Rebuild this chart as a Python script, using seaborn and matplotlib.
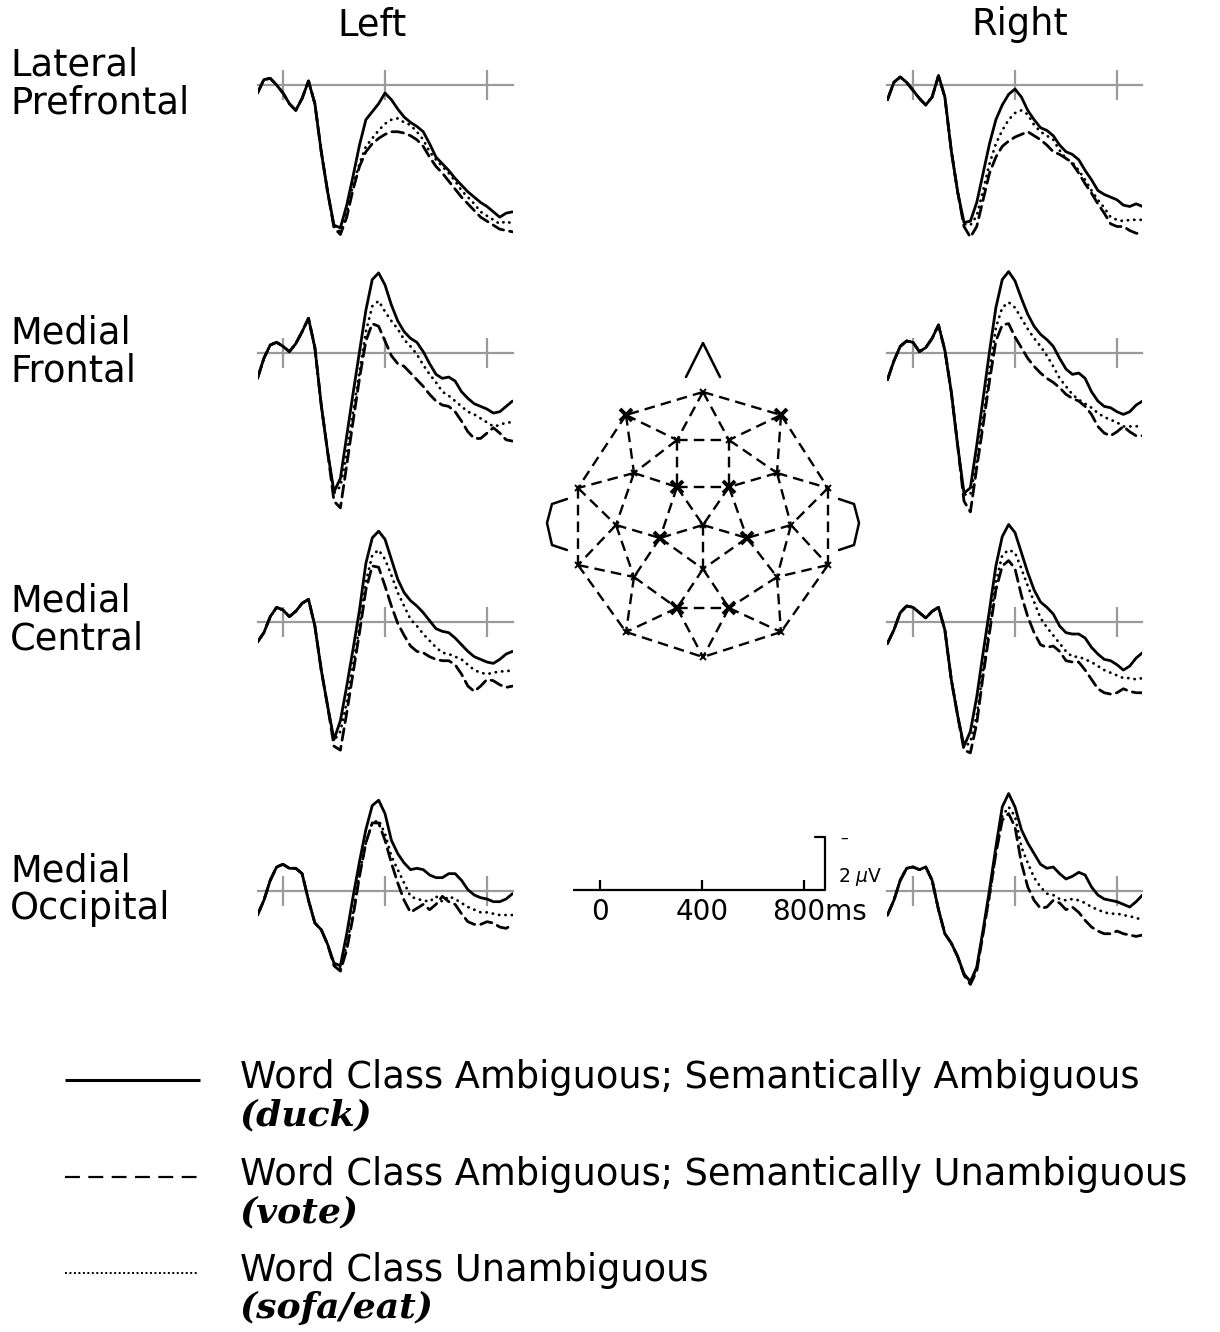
import matplotlib
matplotlib.use("Agg")
import matplotlib.pyplot as plt
import seaborn as sns
import pandas as pd

# ---- data, microvolts, negative plotted up ----
times = [-100, -75, -50, -25, 0, 25, 50, 75, 100, 125, 150, 175,
         200, 225, 250, 275, 300, 325, 350, 375, 400, 425,
         450, 475, 500, 525, 550, 575, 600, 625, 650, 675,
         700, 725, 750, 775, 800, 825, 850, 875, 900]

# first part (-100..175 ms) is shared by the three conditions
lpf_l_early = [0.3, -0.2, -0.25, 0.0, 0.3, 0.7, 0.95, 0.5, -0.15, 0.7, 2.5, 4.0]
lpf_l_duck = lpf_l_early + [5.25, 5.35, 4.5, 3.4, 2.25, 1.3, 1.0, 0.7, 0.3, 0.55,
                            0.9, 1.2, 1.4, 1.55, 1.75, 2.2, 2.7, 2.95, 3.2, 3.5,
                            3.75, 4.0, 4.2, 4.4, 4.55, 4.75, 4.95, 4.8, 4.75]
lpf_l_vote = lpf_l_early + [5.35, 5.6, 4.95, 3.9, 3.05, 2.5, 2.2, 2.0, 1.85, 1.75,
                            1.75, 1.8, 1.9, 2.05, 2.3, 2.7, 3.05, 3.3, 3.6, 3.9,
                            4.2, 4.45, 4.7, 4.95, 5.1, 5.25, 5.4, 5.45, 5.5]
lpf_l_sofa = lpf_l_early + [5.3, 5.5, 4.8, 3.7, 2.95, 2.3, 2.0, 1.7, 1.45, 1.3,
                            1.25, 1.4, 1.5, 1.75, 2.05, 2.5, 2.8, 3.05, 3.3, 3.6,
                            3.95, 4.2, 4.45, 4.75, 4.9, 5.05, 5.2, 5.1, 5.2]

mf_l_early = [0.95, 0.2, -0.3, -0.4, -0.25, -0.05, -0.35, -0.8, -1.3, -0.2, 1.95, 3.7]
mf_l_duck = mf_l_early + [5.2, 4.7, 3.1, 1.5, -0.05, -1.6, -2.75, -3.0, -2.55, -1.8,
                          -1.2, -0.8, -0.55, -0.4, -0.05, 0.4, 0.8, 0.95, 0.9, 1.05,
                          1.45, 1.7, 1.9, 2.0, 2.1, 2.25, 2.2, 2.0, 1.8]
mf_l_vote = mf_l_early + [5.55, 5.8, 4.2, 2.55, 0.95, -0.45, -1.1, -1.0, -0.45, 0.1,
                          0.4, 0.5, 0.75, 1.0, 1.25, 1.55, 1.8, 1.95, 2.0, 2.2,
                          2.55, 2.95, 3.2, 3.2, 3.0, 2.8, 3.0, 3.25, 3.3]
mf_l_sofa = mf_l_early + [5.25, 5.0, 3.8, 2.2, 0.7, -0.8, -1.75, -1.95, -1.55, -1.2,
                          -0.9, -0.5, -0.25, 0.05, 0.45, 0.8, 1.1, 1.45, 1.6, 1.8,
                          2.0, 2.2, 2.3, 2.45, 2.6, 2.75, 2.7, 2.6, 2.6]

mc_l_early = [0.75, 0.4, -0.2, -0.55, -0.45, -0.2, -0.4, -0.7, -0.85, 0.15, 1.8, 3.15]
mc_l_duck = mc_l_early + [4.4, 3.7, 2.4, 1.0, -0.45, -2.2, -3.15, -3.4, -3.1, -2.35,
                          -1.6, -1.1, -0.8, -0.6, -0.35, -0.05, 0.25, 0.35, 0.4, 0.6,
                          0.85, 1.1, 1.3, 1.4, 1.5, 1.55, 1.4, 1.2, 1.1]
mc_l_vote = mc_l_early + [4.65, 4.8, 3.4, 1.9, 0.4, -1.2, -2.1, -2.05, -1.35, -0.6,
                          0.05, 0.5, 0.9, 1.1, 1.15, 1.3, 1.4, 1.45, 1.45, 1.6,
                          1.95, 2.4, 2.6, 2.4, 2.15, 2.2, 2.35, 2.45, 2.4]
mc_l_sofa = mc_l_early + [4.45, 4.1, 3.0, 1.6, 0.15, -1.5, -2.5, -2.7, -2.35, -1.75,
                          -1.1, -0.6, -0.1, 0.15, 0.45, 0.7, 0.95, 1.15, 1.2, 1.3,
                          1.4, 1.6, 1.8, 1.9, 1.95, 1.9, 1.85, 1.85, 1.8]

mo_l_early = [0.9, 0.35, -0.4, -0.9, -1.0, -0.85, -0.85, -0.65, 0.35, 1.2, 1.45, 2.0]
mo_l_duck = mo_l_early + [2.7, 2.8, 1.6, 0.2, -1.1, -2.3, -3.2, -3.4, -2.9, -1.9,
                          -1.4, -1.05, -0.8, -0.85, -0.8, -0.6, -0.5, -0.5, -0.65, -0.65,
                          -0.4, -0.05, 0.15, 0.25, 0.3, 0.4, 0.4, 0.3, 0.1]
mo_l_vote = mo_l_early + [2.8, 3.0, 2.2, 0.95, -0.55, -1.8, -2.55, -2.55, -1.9, -1.05,
                          -0.3, 0.35, 0.8, 0.65, 0.5, 0.7, 0.5, 0.2, 0.4, 0.5,
                          0.85, 1.15, 1.25, 1.25, 1.15, 1.2, 1.35, 1.4, 1.25]
mo_l_sofa = mo_l_early + [2.75, 2.9, 2.0, 0.8, -0.65, -1.8, -2.55, -2.65, -2.15, -1.3,
                          -0.8, -0.3, 0.2, 0.3, 0.35, 0.4, 0.2, 0.4, 0.2, 0.3,
                          0.45, 0.6, 0.7, 0.8, 0.8, 0.85, 0.9, 0.9, 0.9]

lpf_r_early = [0.55, -0.1, -0.3, -0.1, 0.2, 0.5, 0.75, 0.45, -0.35, 0.45, 2.45, 4.0]
lpf_r_duck = lpf_r_early + [5.15, 5.1, 4.4, 3.3, 2.2, 1.3, 0.75, 0.35, 0.15, 0.45,
                            0.95, 1.3, 1.6, 1.7, 1.9, 2.25, 2.5, 2.6, 2.8, 3.2,
                            3.55, 3.95, 4.1, 4.2, 4.3, 4.5, 4.55, 4.45, 4.55]
lpf_r_vote = lpf_r_early + [5.3, 5.7, 5.3, 4.3, 3.3, 2.7, 2.3, 2.1, 1.95, 1.85,
                            1.75, 1.9, 2.05, 2.25, 2.5, 2.6, 2.75, 2.95, 3.3, 3.7,
                            4.05, 4.45, 4.8, 5.2, 5.3, 5.3, 5.45, 5.55, 5.6]
lpf_r_sofa = lpf_r_early + [5.2, 5.25, 4.9, 3.95, 2.95, 2.2, 1.7, 1.3, 1.05, 0.95,
                            1.1, 1.5, 1.75, 1.9, 2.05, 2.45, 2.75, 2.9, 3.2, 3.55,
                            3.95, 4.3, 4.6, 4.95, 5.05, 5.1, 5.05, 5.05, 5.05]

mf_r_early = [1.0, 0.3, -0.25, -0.45, -0.4, -0.05, -0.2, -0.55, -1.05, -0.1, 1.45, 3.45]
mf_r_duck = mf_r_early + [5.25, 5.05, 3.45, 1.7, -0.05, -1.7, -2.75, -3.05, -2.7, -2.05,
                          -1.45, -1.0, -0.7, -0.5, -0.25, 0.2, 0.6, 0.8, 0.75, 0.95,
                          1.45, 1.8, 2.0, 2.05, 2.2, 2.3, 2.2, 1.95, 1.8]
mf_r_vote = mf_r_early + [5.55, 5.95, 4.3, 2.7, 1.05, -0.45, -1.05, -1.1, -0.6, -0.2,
                          0.2, 0.5, 0.75, 0.95, 1.1, 1.3, 1.55, 1.7, 1.8, 2.0,
                          2.3, 2.75, 3.0, 3.1, 2.95, 2.75, 2.95, 3.1, 3.1]
mf_r_sofa = mf_r_early + [5.3, 5.3, 4.05, 2.45, 0.7, -0.95, -1.7, -1.9, -1.7, -1.3,
                          -0.9, -0.55, -0.25, 0.1, 0.5, 0.95, 1.25, 1.55, 1.75, 1.9,
                          2.05, 2.25, 2.4, 2.5, 2.6, 2.75, 2.75, 2.75, 2.7]

mc_r_early = [0.8, 0.3, -0.35, -0.6, -0.55, -0.35, -0.15, -0.4, -0.55, 0.3, 2.15, 3.5]
mc_r_duck = mc_r_early + [4.65, 4.1, 2.8, 1.15, -0.45, -2.1, -3.2, -3.65, -3.35, -2.6,
                          -1.85, -1.2, -0.75, -0.55, -0.3, 0.15, 0.4, 0.45, 0.45, 0.6,
                          0.95, 1.2, 1.4, 1.45, 1.6, 1.8, 1.65, 1.35, 1.15]
mc_r_vote = mc_r_early + [4.8, 4.9, 3.8, 2.0, 0.4, -1.2, -2.1, -2.3, -2.0, -1.0,
                          -0.2, 0.4, 0.85, 0.95, 0.9, 1.1, 1.45, 1.5, 1.5, 1.8,
                          2.15, 2.5, 2.65, 2.7, 2.65, 2.5, 2.6, 2.65, 2.65]
mc_r_sofa = mc_r_early + [4.7, 4.5, 3.5, 1.8, 0.15, -1.5, -2.5, -2.7, -2.6, -2.0,
                          -1.35, -0.75, -0.15, 0.2, 0.5, 0.8, 1.1, 1.3, 1.3, 1.4,
                          1.5, 1.65, 1.8, 1.9, 2.0, 2.1, 2.1, 2.15, 2.1]

mo_r_early = [0.9, 0.35, -0.4, -0.85, -0.9, -0.8, -0.9, -0.4, 0.7, 1.6, 1.95, 2.45]
mo_r_duck = mo_r_early + [3.1, 3.4, 2.85, 1.45, -0.05, -1.65, -3.15, -3.65, -3.15, -2.3,
                          -1.8, -1.4, -1.0, -0.85, -0.9, -0.65, -0.45, -0.55, -0.7, -0.6,
                          -0.15, 0.15, 0.3, 0.35, 0.4, 0.5, 0.6, 0.4, 0.15]
mo_r_vote = mo_r_early + [3.15, 3.5, 3.0, 1.6, 0.15, -1.4, -2.65, -2.9, -2.4, -1.05,
                          -0.15, 0.35, 0.65, 0.6, 0.35, 0.45, 0.7, 0.6, 0.8, 1.1,
                          1.35, 1.5, 1.6, 1.6, 1.5, 1.6, 1.65, 1.7, 1.65]
mo_r_sofa = mo_r_early + [3.1, 3.4, 2.9, 1.55, 0.2, -1.4, -2.8, -3.15, -2.8, -1.65,
                          -1.05, -0.5, -0.15, 0.1, 0.15, 0.3, 0.35, 0.3, 0.35, 0.45,
                          0.6, 0.7, 0.8, 0.85, 0.85, 0.9, 0.95, 1.0, 1.1]

regions = ["Lateral\nPrefrontal", "Medial\nFrontal", "Medial\nCentral", "Medial\nOccipital"]
sides = ["Left", "Right"]
conds = ["duck", "vote", "sofa"]
waves = {
    (0, "Left"): [lpf_l_duck, lpf_l_vote, lpf_l_sofa],
    (1, "Left"): [mf_l_duck, mf_l_vote, mf_l_sofa],
    (2, "Left"): [mc_l_duck, mc_l_vote, mc_l_sofa],
    (3, "Left"): [mo_l_duck, mo_l_vote, mo_l_sofa],
    (0, "Right"): [lpf_r_duck, lpf_r_vote, lpf_r_sofa],
    (1, "Right"): [mf_r_duck, mf_r_vote, mf_r_sofa],
    (2, "Right"): [mc_r_duck, mc_r_vote, mc_r_sofa],
    (3, "Right"): [mo_r_duck, mo_r_vote, mo_r_sofa],
}

legend_labels = ["Word Class Ambiguous; Semantically Ambiguous",
                 "Word Class Ambiguous; Semantically Unambiguous",
                 "Word Class Unambiguous"]
legend_words = ["(duck)", "(vote)", "(sofa/eat)"]

# electrode montage (head map, figure pixels)
elec_x = [703, 626, 781, 677, 729, 634, 777, 677, 729, 578, 828, 616, 791,
          703, 660, 747, 578, 828, 703, 634, 777, 677, 729, 626, 781, 703]
elec_y = [392, 415, 415, 440, 440, 473, 473, 487, 487, 488, 488, 525, 525,
          525, 538, 538, 565, 565, 569, 577, 577, 608, 608, 632, 632, 657]
elec_big = [1, 2, 7, 8, 14, 15, 21, 22]
mesh = [(1, 2), (1, 3), (1, 4), (1, 5), (2, 4), (2, 6), (2, 10), (3, 5), (3, 7), (3, 11),
        (4, 5), (4, 6), (4, 8), (5, 7), (5, 9), (6, 8), (6, 10), (6, 12), (7, 9), (7, 11),
        (7, 13), (8, 9), (8, 14), (8, 15), (9, 14), (9, 16), (10, 12), (10, 17), (11, 13),
        (11, 18), (12, 15), (12, 17), (12, 20), (13, 16), (13, 18), (13, 21), (14, 15),
        (14, 16), (14, 19), (15, 19), (15, 20), (16, 19), (16, 21), (17, 20), (17, 24),
        (18, 21), (18, 25), (19, 22), (19, 23), (20, 22), (20, 24), (21, 23), (21, 25),
        (22, 23), (22, 24), (22, 26), (23, 25), (23, 26), (24, 26), (25, 26)]
nose_x, nose_y = [686, 703, 720], [377, 343, 377]
ear_x = [567, 552, 547, 552, 567]
ear_y = [499, 504, 523, 545, 550]

# ---- layout ----
sns.set_style("white")
plt.rcParams["font.family"] = ["DejaVu Sans"]
plt.rcParams["text.color"] = "black"

W, H = 1220, 1332
S = 26.7      # px per microvolt
MS = 0.255    # px per ms
FS = 26.5
zero_x = {"Left": 283, "Right": 913}
row_base = [85, 353, 622, 891]

fig = plt.figure(figsize=(W / 100, H / 100), dpi=100)
ov = fig.add_axes([0, 0, 1, 1])
ov.set_xlim(0, W)
ov.set_ylim(H, 0)
ov.axis("off")


def px_axes(x0, x1, y0, y1):
    return fig.add_axes([x0 / W, 1 - y1 / H, (x1 - x0) / W, (y1 - y0) / H])


gray = "#9a9a9a"
dash_map = {"duck": "", "vote": (4.2, 2.2), "sofa": (0.1, 2.2)}

for r, region in enumerate(regions):
    for side in sides:
        ylo = -3.0 if r == 0 else -4.0
        yhi = 6.3
        base = row_base[r]
        ax = px_axes(zero_x[side] - 100 * MS, zero_x[side] + 900 * MS,
                     base + ylo * S, base + yhi * S)
        frames = [pd.DataFrame({"time": times, "uv": v, "cond": c})
                  for c, v in zip(conds, waves[(r, side)])]
        df = pd.concat(frames, ignore_index=True)
        sns.lineplot(data=df, x="time", y="uv", style="cond", style_order=conds,
                     dashes=dash_map, color="black", linewidth=2.0,
                     estimator=None, sort=False, legend=False, ax=ax)
        for ln in ax.get_lines():
            ln.set_dash_capstyle("round")
            ln.set_solid_joinstyle("round")
        ax.set_xlim(-100, 900)
        ax.set_ylim(yhi, ylo)
        ax.patch.set_alpha(0)
        for sp in ["top", "left", "right"]:
            ax.spines[sp].set_visible(False)
        ax.spines["bottom"].set_position(("data", 0))
        ax.spines["bottom"].set_color(gray)
        ax.spines["bottom"].set_linewidth(1.6)
        ax.spines["bottom"].set_zorder(1)
        ax.set_xticks([0, 400, 800])
        ax.set_yticks([])
        ax.tick_params(axis="x", bottom=True, direction="inout", length=22,
                       width=1.6, colors=gray, labelbottom=False)
        ax.set_xlabel("")
        ax.set_ylabel("")

    top_word, bottom_word = region.split("\n")
    ov.text(10, row_base[r] - 10, top_word, fontsize=FS, ha="left", va="baseline")
    ov.text(10, row_base[r] + 28, bottom_word, fontsize=FS, ha="left", va="baseline")

ov.text(372, 35, "Left", fontsize=FS, ha="center", va="baseline")
ov.text(1020, 35, "Right", fontsize=FS, ha="center", va="baseline")

# ---- scale bar ----
sb = px_axes(600 - 110 * MS, 600 + 900 * MS, 890 - 2.5 * S, 890 + 1.5 * S)
sb.set_xlim(-110, 900)
sb.set_ylim(1.5, -2.5)
sb.axis("off")
sb.plot([-106, 882], [0, 0], color="black", lw=1.6, solid_capstyle="butt")
sb.plot([843, 882, 882], [-2, -2, 0], color="black", lw=1.6)
sb.vlines([0, 400, 800], 0, -0.38, color="black", lw=1.6)
for t in [0, 400]:
    sb.text(t, 1.12, str(t), fontsize=20, ha="center", va="baseline")
sb.text(675, 1.12, "800ms", fontsize=20, ha="left", va="baseline")
ov.text(838, 882, r"2 $\mu$V", fontsize=13.5, ha="left", va="baseline")
ov.text(844, 843, "\u2013", fontsize=11, ha="center", va="baseline")

# ---- head map ----
for a, b in mesh:
    ov.plot([elec_x[a - 1], elec_x[b - 1]], [elec_y[a - 1], elec_y[b - 1]],
            color="black", lw=1.7, dashes=(4.5, 2.6))
small = [i for i in range(len(elec_x)) if i not in elec_big]
ov.plot([elec_x[i] for i in small], [elec_y[i] for i in small], "x",
        color="black", ms=5, mew=1.4, ls="none")
ov.plot([elec_x[i] for i in elec_big], [elec_y[i] for i in elec_big], "x",
        color="black", ms=8.5, mew=2.8, ls="none")
ov.plot(nose_x, nose_y, color="black", lw=1.8)
ov.plot(ear_x, ear_y, color="black", lw=1.8)
ov.plot([2 * 703 - x for x in ear_x], ear_y, color="black", lw=1.8)

# ---- legend ----
leg_y = [1075, 1172, 1268]
ov.plot([65, 200], [leg_y[0] + 5, leg_y[0] + 5], color="black", lw=2.2,
        solid_capstyle="butt")
ov.plot([65, 197], [leg_y[1] + 5, leg_y[1] + 5], color="black", lw=1.6,
        dashes=(6.7, 3.8))
ov.plot([65, 197], [leg_y[2] + 5, leg_y[2] + 5], color="black", lw=1.4,
        dashes=(1.0, 1.3))
for y, lab, word in zip(leg_y, legend_labels, legend_words):
    ov.text(240, y + 13, lab, fontsize=FS, ha="left", va="baseline")
    ov.text(240, y + 50, word, fontsize=FS - 0.5, ha="left", va="baseline",
            family="DejaVu Serif", style="italic", weight="bold")

fig.savefig("out.png", dpi=100)
